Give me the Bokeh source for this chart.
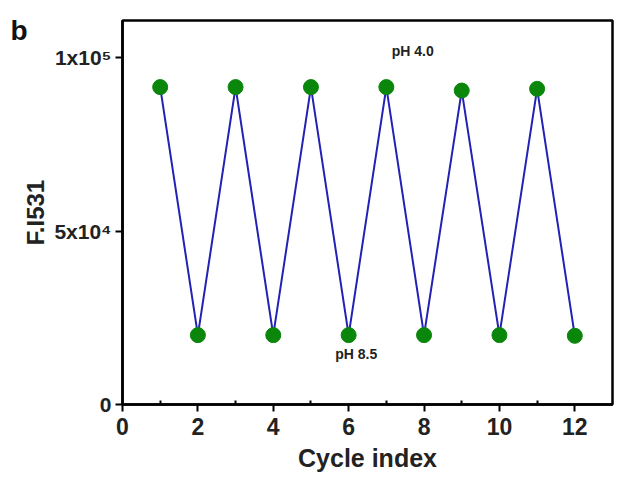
from bokeh.plotting import figure
from bokeh.models import Label, Range1d, FixedTicker, LinearAxis
from bokeh.embed import file_html
from bokeh.resources import INLINE

cycle = [1, 2, 3, 4, 5, 6, 7, 8, 9, 10, 11, 12]
intensity = [91500, 20000, 91500, 20000, 91500, 20000, 91500, 20000, 90500, 20000, 91000, 19800]
x_ticks = [0, 2, 4, 6, 8, 10, 12]
y_ticks = [0, 50000, 100000]
y_tick_labels = ["0", "5x10⁴", "1x10⁵"]
panel_tag_pos = [107800]
panel_tag = ["b"]

FONT = "Liberation Sans"

p = figure(width=620, height=483, output_backend="svg", toolbar_location=None,
           x_range=Range1d(0, 13), y_range=Range1d(0, 110700),
           min_border_left=122, min_border_right=8, min_border_top=20, min_border_bottom=79)
p.outline_line_color = "black"
p.outline_line_width = 2.5
p.xgrid.visible = False
p.ygrid.visible = False
p.background_fill_color = "white"

p.line(cycle, intensity, line_color="#2222b4", line_width=2)
p.scatter(cycle, intensity, size=15, fill_color="#0a860a", line_color="#0a860a")

p.xaxis.ticker = FixedTicker(ticks=x_ticks, minor_ticks=[1, 3, 5, 7, 9, 11])
p.yaxis.ticker = FixedTicker(ticks=y_ticks)
p.yaxis.major_label_overrides = {t: l for t, l in zip(y_ticks, y_tick_labels)}

for ax in (p.xaxis[0], p.yaxis[0]):
    ax.axis_line_width = 2.5
    ax.major_tick_line_width = 2
    ax.major_tick_out = 7
    ax.major_tick_in = 0
    ax.minor_tick_line_width = 2
    ax.minor_tick_out = 0
    ax.minor_tick_in = 4
    ax.major_label_text_font = FONT
    ax.major_label_text_font_style = "bold"
    ax.major_label_text_color = "#222222"
    ax.axis_label_text_font = FONT
    ax.axis_label_text_font_style = "bold"
    ax.axis_label_text_color = "#222222"

p.xaxis.major_label_text_font_size = "23px"
p.yaxis.major_label_text_font_size = "21px"
p.xaxis.axis_label = "Cycle index"
p.xaxis.axis_label_text_font_size = "25px"
p.xaxis.axis_label_standoff = 6
p.yaxis.axis_label = "F.I531"
p.yaxis.axis_label_text_font_size = "24px"
p.yaxis.axis_label_standoff = 2
p.yaxis.major_label_standoff = 4
p.xaxis.major_label_standoff = 6
p.yaxis.minor_tick_in = 0

# panel tag "b" drawn as an outer, line-less axis label so it can sit outside the frame
tag_axis = LinearAxis(ticker=FixedTicker(ticks=panel_tag_pos),
                      major_label_overrides={t: l for t, l in zip(panel_tag_pos, panel_tag)},
                      axis_line_color=None, major_tick_line_color=None,
                      minor_tick_line_color=None, major_tick_out=0, major_tick_in=0,
                      major_label_standoff=-8,
                      major_label_text_font=FONT, major_label_text_font_style="bold",
                      major_label_text_font_size="28px", major_label_text_color="#111111")
p.add_layout(tag_axis, "left")

p.add_layout(Label(x=7.7, y=102000, text="pH 4.0", text_font=FONT, text_font_style="bold",
                   text_font_size="14px", text_align="center", text_baseline="middle",
                   text_color="#222222"))
p.add_layout(Label(x=6.2, y=14600, text="pH 8.5", text_font=FONT, text_font_style="bold",
                   text_font_size="14px", text_align="center", text_baseline="middle",
                   text_color="#222222"))

open("out.html", "w").write(file_html(p, INLINE))
